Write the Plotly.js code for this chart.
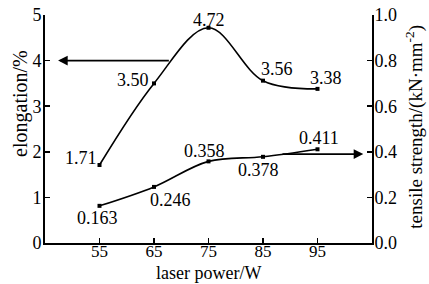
<!DOCTYPE html>
<html><head><meta charset="utf-8">
<script src="https://cdn.plot.ly/plotly-3.0.1.min.js"></script>
<style>html,body{margin:0;padding:0;background:#fff}</style>
</head><body><div id="chart" style="width:429px;height:284px"></div>
<script>
const power = [55, 65, 75, 85, 95];
const elongation = [1.71, 3.50, 4.72, 3.56, 3.38];
const tensile = [0.163, 0.246, 0.358, 0.378, 0.411];
const elongLabels = ['1.71', '3.50', '4.72', '3.56', '3.38'];
const tensileLabels = ['0.163', '0.246', '0.358', '0.378', '0.411'];
const xTicks = [55, 65, 75, 85, 95];

// label offsets in px (style, not data)
const elongShift = [[-19, 7], [-21, 3], [0, 8], [14, 12], [8, 11]];
const tensShift = [[-2, -12], [16, -13], [-4, 10], [-5, -13], [1, 11]];

const FONT = 'Times New Roman';

const traces = [
  {x: power, y: elongation, type: 'scatter', mode: 'lines+markers',
   line: {color: '#000', width: 1.6, shape: 'spline', smoothing: 1},
   marker: {symbol: 'square', size: 4, color: '#000'}, yaxis: 'y', hoverinfo: 'skip'},
  {x: power, y: tensile, type: 'scatter', mode: 'lines+markers',
   line: {color: '#000', width: 1.6, shape: 'spline', smoothing: 1},
   marker: {symbol: 'square', size: 4, color: '#000'}, yaxis: 'y2', hoverinfo: 'skip'}
];

const ann = [];
power.forEach((p, i) => {
  ann.push({x: p, y: elongation[i], xref: 'x', yref: 'y', text: elongLabels[i], showarrow: false,
    xshift: elongShift[i][0], yshift: elongShift[i][1], font: {family: FONT, size: 18, color: '#000'}});
  ann.push({x: p, y: tensile[i], xref: 'x', yref: 'y2', text: tensileLabels[i], showarrow: false,
    xshift: tensShift[i][0], yshift: tensShift[i][1], font: {family: FONT, size: 18, color: '#000'}});
});
// indicator arrows
ann.push({x: 47.4, y: 4, ax: 68, ay: 4, xref: 'x', yref: 'y', axref: 'x', ayref: 'y',
  text: '', showarrow: true, arrowhead: 2, arrowsize: 1.2, arrowwidth: 1.6, arrowcolor: '#000'});
ann.push({x: 103.4, y: 0.39, ax: 88.3, ay: 0.39, xref: 'x', yref: 'y2', axref: 'x', ayref: 'y2',
  text: '', showarrow: true, arrowhead: 2, arrowsize: 1.2, arrowwidth: 1.6, arrowcolor: '#000'});
// axis titles
ann.push({x: 0, y: 0.61, xref: 'paper', yref: 'paper', xshift: -24, xanchor: 'center', yanchor: 'middle',
  text: 'elongation/%', textangle: -90, showarrow: false, font: {family: FONT, size: 20, color: '#000'}});
ann.push({x: 1, y: 0.51, xref: 'paper', yref: 'paper', xshift: 43, xanchor: 'center', yanchor: 'middle',
  text: 'tensile strength/(kN·mm<sup>-2</sup>)', textangle: -90, showarrow: false, font: {family: FONT, size: 19, color: '#000'}});
ann.push({x: 0.5, y: 0, xref: 'paper', yref: 'paper', yshift: -30, xanchor: 'center', yanchor: 'middle',
  text: 'laser power/W', showarrow: false, font: {family: FONT, size: 18, color: '#000'}});

const axisCommon = {showline: true, linecolor: '#000', linewidth: 2, ticks: 'inside', ticklen: 5,
  tickwidth: 1.5, tickcolor: '#000', showgrid: false, zeroline: false,
  tickfont: {family: FONT, size: 18, color: '#000'}};

const layout = {
  width: 429, height: 284,
  margin: {l: 45, r: 57, t: 15, b: 41},
  paper_bgcolor: '#fff', plot_bgcolor: '#fff',
  showlegend: false,
  font: {family: FONT, color: '#000'},
  xaxis: Object.assign({}, axisCommon, {range: [45, 105], tickvals: xTicks, ticktext: xTicks.map(String),
    ticklabelstandoff: -8, tickfont: {family: FONT, size: 17, color: '#000'}}),
  yaxis: Object.assign({}, axisCommon, {range: [0, 5], dtick: 1, tick0: 0, ticklabelstandoff: -2}),
  yaxis2: Object.assign({}, axisCommon, {range: [0, 1], dtick: 0.2, tick0: 0, tickformat: '.1f',
    overlaying: 'y', side: 'right', anchor: 'x', ticklabelstandoff: -3}),
  annotations: ann
};

Plotly.newPlot('chart', traces, layout, {staticPlot: true});
</script></body></html>
